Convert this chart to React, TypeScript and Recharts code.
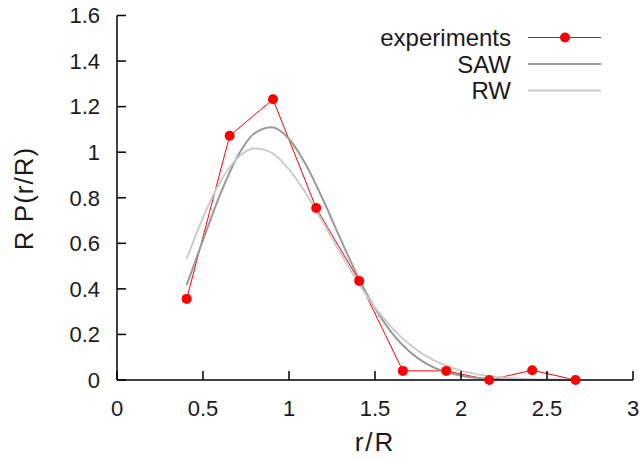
import React from "react";
import { LineChart, Line, XAxis, YAxis } from "recharts";

const expX = [0.405, 0.655, 0.907, 1.158, 1.408, 1.662, 1.914, 2.164, 2.414, 2.666];
const expY = [0.356, 1.072, 1.232, 0.755, 0.435, 0.04, 0.04, 0.0, 0.043, 0.0];

const curveX = [0.405, 0.5, 0.6, 0.7, 0.8, 0.9, 1.0, 1.1, 1.2, 1.3, 1.4, 1.5, 1.6, 1.7, 1.8, 1.9, 2.0, 2.1, 2.2, 2.3, 2.4, 2.5, 2.666];
const sawY = [0.417, 0.614, 0.815, 0.98, 1.083, 1.109, 1.058, 0.943, 0.788, 0.618, 0.455, 0.315, 0.205, 0.125, 0.071, 0.038, 0.019, 0.009, 0.004, 0.0016, 0.0006, 0.0002, 0.0];
const rwY = [0.532, 0.713, 0.87, 0.974, 1.016, 0.997, 0.925, 0.817, 0.689, 0.556, 0.43, 0.319, 0.228, 0.157, 0.104, 0.067, 0.041, 0.0245, 0.014, 0.008, 0.004, 0.002, 0.001];

const xTicks = [0, 0.5, 1, 1.5, 2, 2.5, 3];
const yTicks = [0, 0.2, 0.4, 0.6, 0.8, 1, 1.2, 1.4, 1.6];

const seriesNames = ["experiments", "SAW", "RW"];

const expData = expX.map((x, i) => ({ x, y: expY[i] }));
const sawData = curveX.map((x, i) => ({ x, y: sawY[i] }));
const rwData = curveX.map((x, i) => ({ x, y: rwY[i] }));

const FONT = "'Liberation Sans', Arial, sans-serif";
const TXT = "#1a1a1a";
const TICK_LEN = 9;

const BottomTick = (p: any) => (
  <g>
    <line x1={p.x} y1={p.y} x2={p.x} y2={p.y - TICK_LEN} stroke="#000" strokeWidth={1.5} />
    <text x={p.x} y={p.y + 36} textAnchor="middle" fontFamily={FONT} fontSize={22} fill={TXT}>
      {String(p.payload.value)}
    </text>
  </g>
);
const TopTick = (p: any) => (
  <line x1={p.x} y1={p.y} x2={p.x} y2={p.y + TICK_LEN} stroke="#000" strokeWidth={1.5} />
);
const LeftTick = (p: any) => (
  <g>
    <line x1={p.x} y1={p.y} x2={p.x + TICK_LEN} y2={p.y} stroke="#000" strokeWidth={1.5} />
    <text x={p.x - 17} y={p.y + 7.8} textAnchor="end" fontFamily={FONT} fontSize={22} fill={TXT}>
      {String(p.payload.value)}
    </text>
  </g>
);
const RightTick = (p: any) => (
  <line x1={p.x} y1={p.y} x2={p.x - TICK_LEN} y2={p.y} stroke="#000" strokeWidth={1.5} />
);

export default function App() {
  const legendRows = [37.5, 64, 90.5];
  return (
    <div style={{ position: "relative", width: 643, height: 461, background: "#fff" }}>
      <style>{"body{margin:0;background:#fff}"}</style>
      <LineChart width={643} height={461} margin={{ top: 15.5, right: 10, bottom: 51, left: 57 }}>
        <XAxis
          xAxisId="b"
          type="number"
          dataKey="x"
          domain={[0, 3]}
          ticks={xTicks}
          orientation="bottom"
          height={30}
          tickSize={0}
          tickMargin={0}
          tickLine={false}
          axisLine={{ stroke: "#000", strokeWidth: 1.5 }}
          tick={BottomTick}
          interval={0}
        />
        <XAxis
          xAxisId="t"
          type="number"
          dataKey="x"
          domain={[0, 3]}
          ticks={xTicks}
          orientation="top"
          height={0}
          tickSize={0}
          tickMargin={0}
          tickLine={false}
          axisLine={{ stroke: "#000", strokeWidth: 1.5 }}
          tick={TopTick}
          interval={0}
        />
        <YAxis
          yAxisId="l"
          type="number"
          domain={[0, 1.6]}
          ticks={yTicks}
          orientation="left"
          width={60}
          tickSize={0}
          tickMargin={0}
          tickLine={false}
          axisLine={{ stroke: "#000", strokeWidth: 1.5 }}
          tick={LeftTick}
          interval={0}
        />
        <YAxis
          yAxisId="r"
          type="number"
          domain={[0, 1.6]}
          ticks={yTicks}
          orientation="right"
          width={0}
          tickSize={0}
          tickMargin={0}
          tickLine={false}
          axisLine={{ stroke: "#000", strokeWidth: 1.5 }}
          tick={RightTick}
          interval={0}
        />
        <Line
          xAxisId="t"
          yAxisId="r"
          data={expData}
          dataKey="y"
          stroke="none"
          dot={false}
          activeDot={false}
          isAnimationActive={false}
          legendType="none"
        />
        <Line
          xAxisId="b"
          yAxisId="l"
          data={expData}
          dataKey="y"
          name={seriesNames[0]}
          type="linear"
          stroke="#ff0000"
          strokeWidth={1}
          dot={{ r: 5, fill: "#ff0000", stroke: "#ff0000", strokeWidth: 0 }}
          activeDot={false}
          isAnimationActive={false}
        />
        <Line
          xAxisId="b"
          yAxisId="l"
          data={sawData}
          dataKey="y"
          name={seriesNames[1]}
          type="monotone"
          stroke="#999999"
          strokeWidth={2}
          dot={false}
          activeDot={false}
          isAnimationActive={false}
        />
        <Line
          xAxisId="b"
          yAxisId="l"
          data={rwData}
          dataKey="y"
          name={seriesNames[2]}
          type="monotone"
          stroke="#cccccc"
          strokeWidth={2}
          dot={false}
          activeDot={false}
          isAnimationActive={false}
        />
      </LineChart>
      <svg
        width={643}
        height={461}
        style={{ position: "absolute", left: 0, top: 0, pointerEvents: "none" }}
      >
        <text x={375} y={451} textAnchor="middle" fontFamily={FONT} fontSize={26} fill={TXT} letterSpacing={2}>
          r/R
        </text>
        <text
          transform="translate(33,198.5) rotate(-90)"
          textAnchor="middle"
          fontFamily={FONT}
          fontSize={26}
          fill={TXT}
          letterSpacing={1}
        >
          R P(r/R)
        </text>
        {seriesNames.map((n, i) => (
          <g key={n}>
            <text x={511} y={legendRows[i] + 8.5} textAnchor="end" fontFamily={FONT} fontSize={24} fill={TXT}>
              {n}
            </text>
            <line
              x1={528}
              x2={601}
              y1={legendRows[i]}
              y2={legendRows[i]}
              stroke={i === 0 ? "#ff0000" : i === 1 ? "#999999" : "#cccccc"}
              strokeWidth={i === 0 ? 1 : 2}
            />
            {i === 0 && <circle cx={565} cy={legendRows[i]} r={5} fill="#ff0000" />}
          </g>
        ))}
      </svg>
    </div>
  );
}
